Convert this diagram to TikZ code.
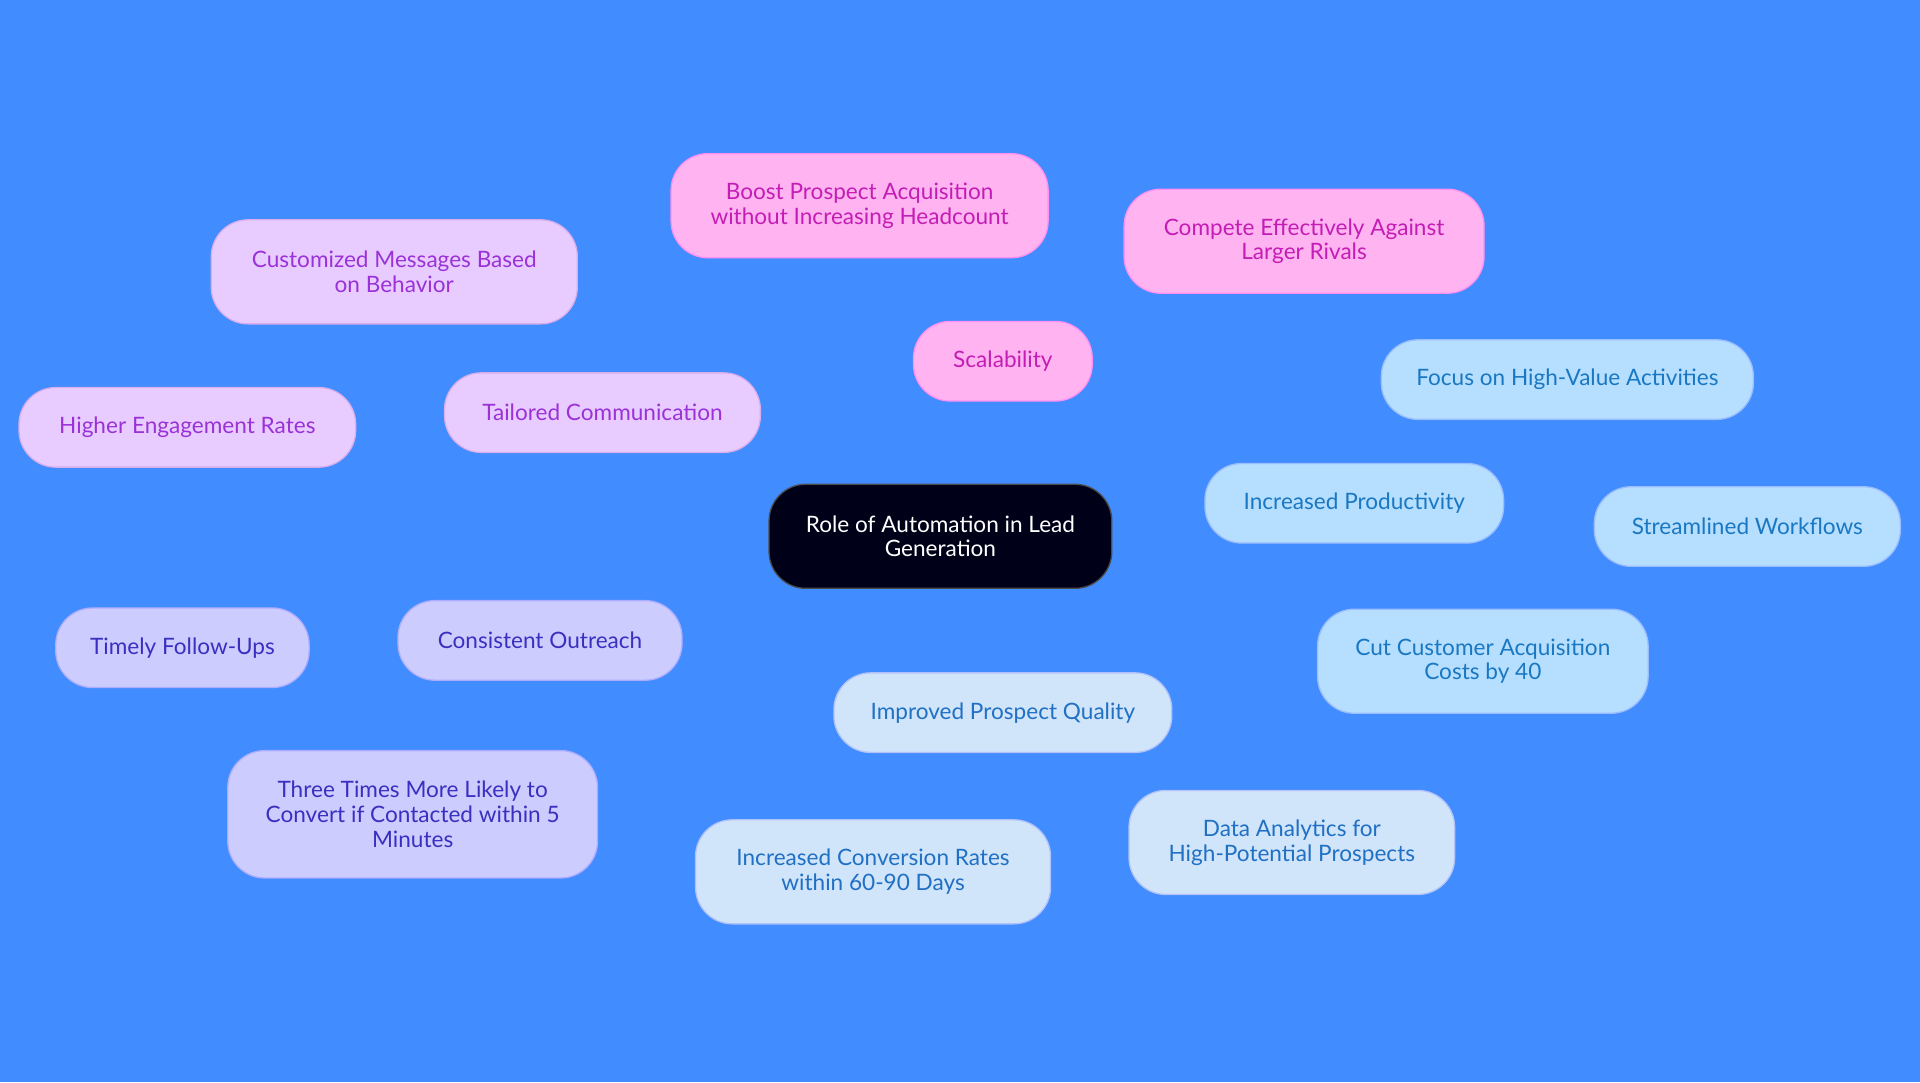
\documentclass[tikz,border=0pt]{standalone}
\usepackage{fontspec}
\setmainfont{Lato}
\usetikzlibrary{backgrounds}
\definecolor{bgblue}{HTML}{418CFF}
\definecolor{pinkfill}{HTML}{FFB3F0}
\definecolor{pinktext}{HTML}{C41DB5}
\definecolor{lilacfill}{HTML}{E8CCFF}
\definecolor{lilactext}{HTML}{9A32D8}
\definecolor{violetfill}{HTML}{CCCCFF}
\definecolor{violettext}{HTML}{3A30C0}
\definecolor{palefill}{HTML}{D0E4FA}
\definecolor{paletext}{HTML}{2070C4}
\definecolor{skyfill}{HTML}{B5DEFF}
\definecolor{skytext}{HTML}{1A78C2}
\tikzset{
  idea/.style = {rounded corners = 0.6cm, align = center, minimum height = 1.3cm,
                 font = \fontsize{10.5}{11.5}\selectfont, line width = 0.6pt},
  pinkbox/.style = {idea, fill = pinkfill, draw = pinkfill!80!magenta, text = pinktext},
  lilacbox/.style = {idea, fill = lilacfill, draw = lilacfill!85!violet, text = lilactext},
  violetbox/.style = {idea, fill = violetfill, draw = violetfill!85!blue, text = violettext},
  palebox/.style = {idea, fill = palefill, draw = palefill!85!blue, text = paletext},
  skybox/.style = {idea, fill = skyfill, draw = skyfill!85!blue, text = skytext},
  link/.style = {line width = 1.2pt}
}
\begin{document}
\begin{tikzpicture}[x = 0.02cm, y = -0.02cm]
\fill[bgblue] (0,0) rectangle (1568,884);
% centre
\node[idea, fill = black!90!blue, draw = black!70, text = white, minimum width = 5.6cm, minimum height = 1.7cm] (root) at (768,438) {Role of Automation in Lead\\Generation};
% scalability
\node[pinkbox, minimum width = 2.92cm] (scal) at (819,295) {Scalability};
\node[pinkbox, minimum width = 6.16cm, minimum height = 1.7cm] (boost) at (702,168) {Boost Prospect Acquisition\\without Increasing Headcount};
\node[pinkbox, minimum width = 5.88cm, minimum height = 1.7cm] (rivals) at (1065,197) {Compete Effectively Against\\Larger Rivals};
% tailored communication
\node[lilacbox, minimum width = 5.16cm] (tail) at (492,337) {Tailored Communication};
\node[lilacbox, minimum width = 5.98cm, minimum height = 1.7cm] (custom) at (322,222) {Customized Messages Based\\on Behavior};
\node[lilacbox, minimum width = 5.5cm] (engage) at (153,349) {Higher Engagement Rates};
% consistent outreach
\node[violetbox, minimum width = 4.64cm] (outreach) at (441,523) {Consistent Outreach};
\node[violetbox, minimum width = 4.14cm] (follow) at (149,529) {Timely Follow-Ups};
\node[violetbox, minimum width = 6.04cm, minimum height = 2.08cm] (three) at (337,665) {Three Times More Likely to\\Convert if Contacted within 5\\Minutes};
% improved prospect quality
\node[palebox, minimum width = 5.52cm] (quality) at (819,582) {Improved Prospect Quality};
\node[palebox, minimum width = 5.8cm, minimum height = 1.7cm] (conv) at (713,712) {Increased Conversion Rates\\within 60-90 Days};
\node[palebox, minimum width = 5.32cm, minimum height = 1.7cm] (data) at (1055,688) {Data Analytics for\\High-Potential Prospects};
% increased productivity
\node[skybox, minimum width = 4.88cm] (prod) at (1106,411) {Increased Productivity};
\node[skybox, minimum width = 6.08cm] (focus) at (1280,310) {Focus on High-Value Activities};
\node[skybox, minimum width = 5.0cm] (stream) at (1427,430) {Streamlined Workflows};
\node[skybox, minimum width = 5.4cm, minimum height = 1.7cm] (cut) at (1211,540) {Cut Customer Acquisition\\Costs by 40};
\begin{scope}[on background layer]
\fill[bgblue] (0,0) rectangle (1568,884);
\draw[link, pinkfill!80!magenta] (root) -- (scal) (scal) -- (boost) (scal) -- (rivals);
\draw[link, lilacfill!85!violet] (root) -- (tail) (tail) -- (custom) (tail) -- (engage);
\draw[link, violetfill!85!blue] (root) -- (outreach) (outreach) -- (follow) (outreach) -- (three);
\draw[link, palefill!85!blue] (root) -- (quality) (quality) -- (conv) (quality) -- (data);
\draw[link, skyfill!85!blue] (root) -- (prod) (prod) -- (focus) (prod) -- (stream) (prod) -- (cut);
\end{scope}
\end{tikzpicture}
\end{document}
